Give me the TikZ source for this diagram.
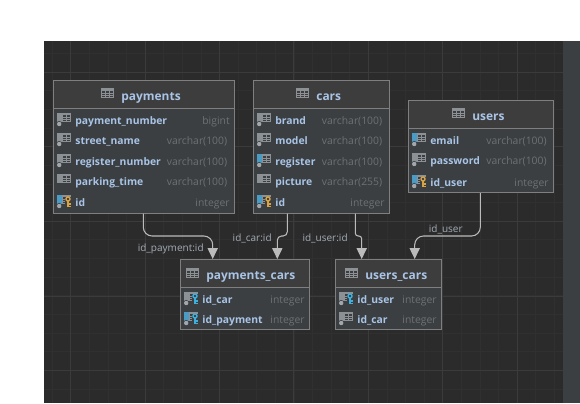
\documentclass[tikz,border=0pt]{standalone}
\usepackage{fontspec}
\setmainfont{Open Sans}
\usetikzlibrary{arrows.meta}
\definecolor{canvas}{HTML}{2B2B2B}
\definecolor{gridminor}{HTML}{303030}
\definecolor{gridmajor}{HTML}{3B3B3B}
\definecolor{strip}{HTML}{3C3F41}
\definecolor{headfill}{HTML}{3D3D3D}
\definecolor{bodyfill}{HTML}{3B3F42}
\definecolor{frame}{HTML}{7F7F7F}
\definecolor{titleblue}{HTML}{A9C4E6}
\definecolor{typetext}{HTML}{6F7173}
\definecolor{linkline}{HTML}{BBBBBB}
\definecolor{linklabel}{HTML}{A3ACB5}
\definecolor{iconbar}{HTML}{8C9196}
\definecolor{iconblue}{HTML}{4A9CC4}
\definecolor{icongold}{HTML}{D9A343}
\definecolor{iconfk}{HTML}{3FB0DC}
\tikzset{
  tablebox/.style={draw=frame,line width=0.7pt,fill=bodyfill,inner sep=0pt,anchor=north west},
  tabletitle/.style={text=titleblue,font=\fontsize{6.8pt}{8pt}\selectfont\bfseries,anchor=base west,inner sep=0pt},
  colname/.style={text=titleblue,font=\fontsize{5.9pt}{8pt}\selectfont\bfseries,anchor=base west,inner sep=0pt},
  coltype/.style={text=typetext,font=\fontsize{5.9pt}{8pt}\selectfont,anchor=base east,inner sep=0pt},
  linkname/.style={text=linklabel,font=\fontsize{5.7pt}{8pt}\selectfont,inner sep=0pt},
  link/.style={draw=linkline,line width=0.6pt,rounded corners=5pt,-{Triangle[width=5.8pt,length=6.2pt,fill=linkline]}}
}
% table glyph in a header
\newcommand{\gridicon}[2]{
  \fill[iconbar] (#1,#2) rectangle ++(13,-10);
  \fill[headfill] ({#1+1},{#2-3}) rectangle ({#1+12},{#2-9});
  \draw[iconbar,line width=0.35pt] ({#1+1},{#2-5}) -- ({#1+12},{#2-5}) ({#1+1},{#2-7}) -- ({#1+12},{#2-7}) ({#1+4.5},{#2-3}) -- ({#1+4.5},{#2-9}) ({#1+8.5},{#2-3}) -- ({#1+8.5},{#2-9});
}
% column glyph: x, middle y, bar colour, d or n for the dot
\newcommand{\colicon}[4]{
  \fill[#3] ({#1},{#2+5}) rectangle ({#1+4.5},{#2-4});
  \fill[iconbar] ({#1+5},{#2+5}) rectangle ({#1+13.5},{#2-4});
  \fill[bodyfill] ({#1+6},{#2+3}) rectangle ({#1+12.5},{#2-3});
  \draw[iconbar,line width=0.4pt] ({#1+6},{#2+1}) -- ({#1+12.5},{#2+1}) ({#1+6},{#2-1}) -- ({#1+12.5},{#2-1}) ({#1+9},{#2+3}) -- ({#1+9},{#2-3});
  \if#4d\fill[bodyfill] ({#1+2.2},{#2-6}) circle (3);\fill[iconbar!80!white] ({#1+2.2},{#2-6}) circle (2.2);\fi
}
% key on top of a column glyph
\newcommand{\keyicon}[3]{
  \fill[bodyfill] ({#1+8},{#2+3}) rectangle ({#1+15},{#2-7});
  \draw[#3,line width=0.8pt] ({#1+11},{#2+1}) circle (2);
  \draw[#3,line width=0.8pt] ({#1+11},{#2-1}) -- ({#1+11},{#2-7}) ({#1+11},{#2-4}) -- ({#1+13.5},{#2-4}) ({#1+11},{#2-6.5}) -- ({#1+13.5},{#2-6.5});
}
% name, text x, middle y, text, type x, type
\newcommand{\colrow}[6]{
  \node[colname] (#1) at (#2,{#3-4.2}) {#4};
  \node[coltype] (#1type) at (#5,{#3-4.2}) {#6};
}
\begin{document}
\begin{tikzpicture}[x=0.02cm,y=0.02cm]
\useasboundingbox (0,0) rectangle (580,-403);
\fill[canvas] (44,-41) rectangle (580,-403);
% grid
\foreach \k in {0,...,27}
  \draw[gridminor,line width=0.4pt] ({52.1+18.6*\k},-41) -- ({52.1+18.6*\k},-403);
\foreach \k in {0,...,18}
  \draw[gridminor,line width=0.4pt] (44,{-53.3-18.65*\k}) -- (563,{-53.3-18.65*\k});
\foreach \k in {0,...,6}
  \draw[gridmajor,line width=0.5pt] ({70.7+74.4*\k},-41) -- ({70.7+74.4*\k},-403);
\foreach \k in {0,...,4}
  \draw[gridmajor,line width=0.5pt] (44,{-72-74.67*\k}) -- (563,{-72-74.67*\k});
\fill[strip] (563,-41) rectangle (580,-403);

% tables
\node[tablebox,minimum width=181*0.02cm,minimum height=132.5*0.02cm] (payments) at (53,-80) {};
\node[tablebox,minimum width=136*0.02cm,minimum height=132.5*0.02cm] (cars) at (253,-80) {};
\node[tablebox,minimum width=145*0.02cm,minimum height=92*0.02cm] (users) at (408,-100) {};
\node[tablebox,minimum width=129*0.02cm,minimum height=70*0.02cm] (paymentscars) at (180,-259) {};
\node[tablebox,minimum width=106*0.02cm,minimum height=70*0.02cm] (userscars) at (335,-259) {};

% headers
\fill[headfill] (53.5,-80.5) rectangle (233.5,-108);
\fill[headfill] (253.5,-80.5) rectangle (388.5,-108);
\fill[headfill] (408.5,-100.5) rectangle (552.5,-128);
\fill[headfill] (180.5,-259.5) rectangle (308.5,-287);
\fill[headfill] (335.5,-259.5) rectangle (440.5,-287);
\draw[frame,line width=0.7pt] (53,-108.5) -- (234,-108.5);
\draw[frame,line width=0.7pt] (253,-108.5) -- (389,-108.5);
\draw[frame,line width=0.7pt] (408,-128.5) -- (553,-128.5);
\draw[frame,line width=0.7pt] (180,-287.5) -- (309,-287.5);
\draw[frame,line width=0.7pt] (335,-287.5) -- (441,-287.5);

\gridicon{101}{-88}
\node[tabletitle] (paymentstitle) at (121,-100) {payments};
\gridicon{296}{-88}
\node[tabletitle] (carstitle) at (316,-100) {cars};
\gridicon{452}{-108}
\node[tabletitle] (userstitle) at (472,-120) {users};
\gridicon{186}{-268}
\node[tabletitle] (paymentscarstitle) at (206,-279) {payments\_cars};
\gridicon{345}{-268}
\node[tabletitle] (userscarstitle) at (365,-279) {users\_cars};

% payments
\colicon{57}{-118}{iconbar}{d}
\colrow{paynumber}{75}{-120}{payment\_number}{230}{bigint}
\colicon{57}{-138}{iconbar}{d}
\colrow{street}{75}{-140}{street\_name}{227.5}{varchar(100)}
\colicon{57}{-159}{iconbar}{d}
\colrow{regnumber}{75}{-161}{register\_number}{227.5}{varchar(100)}
\colicon{57}{-179}{iconbar}{n}
\colrow{parking}{75}{-181}{parking\_time}{227.5}{varchar(100)}
\colicon{57}{-200}{iconblue}{d}
\keyicon{57}{-200}{icongold}
\colrow{payid}{75}{-202}{id}{230}{integer}

% cars
\colicon{257}{-118}{iconbar}{d}
\colrow{brand}{275}{-120}{brand}{382.5}{varchar(100)}
\colicon{257}{-138}{iconbar}{d}
\colrow{model}{275}{-140}{model}{382.5}{varchar(100)}
\colicon{257}{-159}{iconblue}{d}
\colrow{register}{275}{-161}{register}{382.5}{varchar(100)}
\colicon{257}{-179}{iconbar}{n}
\colrow{picture}{275}{-181}{picture}{382.5}{varchar(255)}
\colicon{257}{-200}{iconblue}{d}
\keyicon{257}{-200}{icongold}
\colrow{carid}{275}{-202}{id}{385}{integer}

% users
\colicon{412}{-138}{iconblue}{d}
\colrow{email}{430}{-140}{email}{547}{varchar(100)}
\colicon{412}{-158}{iconbar}{d}
\colrow{password}{430}{-160}{password}{547}{varchar(100)}
\colicon{412}{-180}{iconblue}{d}
\keyicon{412}{-180}{icongold}
\colrow{userid}{430}{-182}{id\_user}{549}{integer}

% payments_cars
\colicon{184}{-297}{iconbar}{d}
\keyicon{184}{-297}{iconfk}
\colrow{pcar}{202}{-299}{id\_car}{305}{integer}
\colicon{184}{-317}{iconblue}{d}
\keyicon{184}{-317}{iconfk}
\colrow{ppayment}{202}{-319}{id\_payment}{305}{integer}

% users_cars
\colicon{339}{-297}{iconbar}{d}
\keyicon{339}{-297}{iconfk}
\colrow{uuser}{357}{-299}{id\_user}{437}{integer}
\colicon{339}{-317}{iconbar}{d}
\colrow{ucar}{357}{-319}{id\_car}{437}{integer}

% links
\draw[link] (143.3,0 |- payments.south) -- (143.3,-236) -- (212.7,-236) -- (212.7,0 |- paymentscars.north);
\draw[link,rounded corners=2.4pt] (287.3,0 |- cars.south) -- (287.3,-236) -- (277.3,-236) -- (277.3,0 |- paymentscars.north);
\draw[link,rounded corners=1.6pt] (355.3,0 |- cars.south) -- (355.3,-236) -- (361.7,-236) -- (361.7,0 |- userscars.north);
\draw[link] (480.3,0 |- users.south) -- (480.3,-236) -- (414.7,-236) -- (414.7,0 |- userscars.north);

\node[linkname,anchor=east] (paylabel) at (204,-249) {id\_payment:id};
\node[linkname,anchor=east] (carlabel) at (272,-238) {id\_car:id};
\node[linkname,anchor=east] (userlabel) at (348,-238) {id\_user:id};
\node[linkname,anchor=east] (userslabel) at (463,-229) {id\_user};
\end{tikzpicture}
\end{document}
